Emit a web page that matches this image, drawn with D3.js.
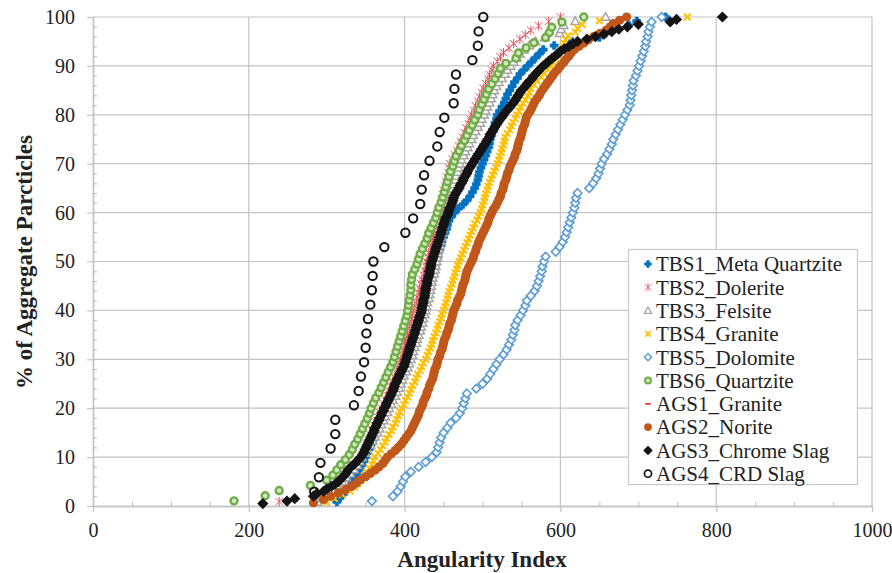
<!DOCTYPE html>
<html>
<head>
<meta charset="utf-8">
<script src="https://cdn.jsdelivr.net/npm/d3@7"></script>
<style>
  body { margin: 0; background: #fff; }
  svg text { font-family: "Liberation Serif", "Times New Roman", Times, Tinos, "DejaVu Serif", serif; }
</style>
</head>
<body>
<svg id="chart" width="892" height="573"></svg>
<script>
// Angularity index of every measured particle, sorted ascending, per aggregate.
// The y value of a point is its cumulative share of the sample (rank / count).
const seriesNames = ["TBS1_Meta Quartzite", "TBS2_Dolerite", "TBS3_Felsite", "TBS4_Granite",
  "TBS5_Dolomite", "TBS6_Quartzite", "AGS1_Granite", "AGS2_Norite", "AGS3_Chrome Slag", "AGS4_CRD Slag"];

const tbs1 = [313,317,322,326,330,333,336,340,343,345,348,350,352,355,357,359,360,362,365,368,
  370,373,375,378,380,383,385,388,390,392,394,396,399,401,403,405,407,409,410,412,
  413,415,417,419,420,422,423,425,426,427,429,430,431,432,434,435,436,438,439,440,
  442,443,445,447,448,450,452,454,455,457,460,464,469,475,480,484,487,490,492,494,
  495,496,498,500,502,504,506,508,509,510,512,514,515,516,518,519,522,525,528,530,
  532,535,538,541,545,548,553,558,563,568,573,578,592,615,650,658,666,688,698,735];

const tbs2 = [239,292,305,312,318,323,328,332,336,341,345,348,350,352,354,356,358,361,363,366,
  368,370,373,375,377,380,382,385,387,389,391,393,395,397,398,400,401,403,404,406,
  407,409,410,412,413,415,416,418,419,421,422,424,425,427,428,430,431,433,434,436,
  437,438,440,441,442,443,445,446,447,449,450,452,453,454,456,457,458,461,464,467,
  469,472,474,477,479,482,484,486,489,491,494,496,499,501,504,507,509,512,514,519,
  523,527,534,540,548,555,562,572,585,600];

const tbs3 = [288,295,300,307,313,320,325,330,335,339,342,345,349,352,356,359,362,365,368,370,
  373,375,378,380,383,385,388,390,393,395,397,399,402,404,406,408,410,411,413,415,
  416,418,420,421,423,424,426,427,428,429,431,432,433,434,435,436,438,439,440,441,
  442,443,444,445,446,447,448,449,450,450,451,452,454,455,457,459,460,462,463,465,
  466,468,469,471,473,476,478,481,483,486,488,491,494,497,499,502,504,506,509,511,
  513,515,518,521,525,529,532,536,540,544,548,553,560,568,580,599,601,604,619,658];

const tbs4 = [300,310,320,330,336,340,344,348,351,355,358,360,362,366,369,372,375,377,380,383,
  385,388,390,392,394,396,399,401,404,406,408,410,413,415,417,420,422,424,427,429,
  431,433,435,436,438,440,442,443,445,447,448,450,452,453,455,456,457,459,461,462,
  464,465,467,468,470,472,474,476,478,480,482,484,486,488,490,493,495,497,499,500,
  502,503,504,506,507,509,511,513,515,517,519,521,522,524,525,527,528,529,532,535,
  537,539,542,544,547,549,552,555,558,560,562,566,570,575,579,584,588,591,594,597,
  600,603,605,607,610,619,622,628,650,763];

const tbs5 = [358,385,391,395,398,401,408,418,427,435,441,443,445,447,450,455,459,466,471,474,
  476,478,480,492,500,506,510,514,518,522,527,531,534,537,539,541,542,545,549,552,
  555,557,562,567,570,572,574,576,577,579,581,594,599,603,606,608,610,612,614,616,
  618,619,620,622,637,642,646,649,651,653,656,660,663,666,668,671,674,677,680,683,
  686,689,690,691,692,693,694,697,699,701,703,705,707,709,710,712,713,715,717,730];

const tbs6 = [181,221,239,279,300,308,313,318,324,329,333,336,340,343,346,349,352,355,357,360,
  363,367,370,373,376,379,382,385,387,389,391,393,395,397,399,401,403,404,405,406,
  407,408,408,409,410,413,416,418,420,423,426,429,431,434,437,440,442,444,447,449,
  451,453,455,457,459,462,464,466,470,473,477,480,483,487,490,494,496,499,502,505,
  508,512,516,520,523,530,543,546,556,566,581,586,589,602,630];

const ags1 = [249,283,296,306,315,320,324,329,335,341,345,348,351,354,357,359,362,365,368,371,
  374,377,380,383,385,388,391,394,397,399,401,403,405,407,409,411,413,415,417,419,
  420,421,423,424,425,426,428,429,431,432,434,436,438,440,442,444,446,448,450,453,
  455,458,460,463,467,470,473,477,480,484,488,492,496,500,504,507,511,515,519,524,
  529,534,539,543,547,553,558,563,570,577,585,593,600,611,622,645,666,686,741,808];

const ags2 = [283,296,305,315,324,332,338,343,350,356,362,367,372,375,378,383,388,392,396,399,
  402,405,408,410,412,414,416,418,419,421,423,424,426,428,429,431,432,434,436,437,
  438,439,441,442,443,445,446,448,449,450,451,453,454,456,457,458,460,461,462,463,
  465,467,468,470,472,473,474,475,477,478,479,480,482,484,486,488,489,491,492,494,
  495,497,499,501,503,505,507,508,510,512,514,517,519,521,523,524,526,527,528,530,
  531,532,534,535,537,539,541,542,544,545,546,547,549,550,551,552,554,555,556,558,
  561,563,565,567,570,573,575,578,581,584,587,590,593,597,600,604,607,611,614,618,
  624,630,636,643,651,659,664,668,676,685];

const ags3 = [218,249,259,283,287,296,300,306,311,315,318,321,324,326,328,331,335,338,341,344,
  346,348,349,351,352,354,355,357,358,360,361,362,364,365,367,368,370,371,373,374,
  376,377,379,380,382,383,385,386,387,388,390,391,393,394,396,397,399,400,401,402,
  403,404,405,406,407,408,409,410,411,412,413,414,415,416,417,418,419,420,421,422,
  422,423,424,424,425,426,426,427,427,428,429,429,430,431,432,432,433,434,434,435,
  436,437,438,439,440,441,442,443,444,445,446,447,448,449,450,451,452,453,455,456,
  457,458,460,461,462,463,464,466,468,470,471,473,475,476,478,480,481,483,485,487,
  489,491,493,495,497,499,501,503,505,507,509,510,512,514,516,518,520,522,525,527,
  529,532,535,537,540,542,544,546,548,550,553,556,558,561,564,566,569,572,575,578,
  582,585,589,593,597,600,605,611,616,622,634,645,656,666,675,686,700,741,749,808];

const ags4 = [284,290,292,305,311,311,335,341,344,348,350,351,353,356,358,359,360,374,401,411,
  420,422,425,432,442,445,451,463,464,466,487,494,495,501];

const xTicks = [0, 200, 400, 600, 800, 1000];
const yTicks = [0, 10, 20, 30, 40, 50, 60, 70, 80, 90, 100];

const serif = '"Liberation Serif", "Times New Roman", Times, Tinos, "DejaVu Serif", serif';

// marker shapes (path strings centred on the origin)
const ring = r => `M${r},0A${r},${r} 0 1,1 ${-r},0A${r},${r} 0 1,1 ${r},0Z`;
const markers = {
  plus:    { d: "M-4,-1.6H-1.6V-4H1.6V-1.6H4V1.6H1.6V4H-1.6V1.6H-4Z", fill: "#0070C0", stroke: "#0070C0", sw: 0.6 },
  star:    { d: "M-3.8,-3.8L3.8,3.8M-3.8,3.8L3.8,-3.8M0,-4.6V4.6", fill: "none", stroke: "#E0505A", sw: 1 },
  tri:     { d: "M0,-4.3L4.3,3.3H-4.3Z", fill: "#fff", stroke: "#A5A5A5", sw: 1.5 },
  cross:   { d: "M-3.3,-3.3L3.3,3.3M-3.3,3.3L3.3,-3.3", fill: "none", stroke: "#FFC000", sw: 2 },
  diaOpen: { d: "M0,-4.3L4.3,0L0,4.3L-4.3,0Z", fill: "#fff", stroke: "#5B9BD5", sw: 1.6 },
  ringG:   { d: ring(3.5), fill: "#D3E7C2", stroke: "#70AD47", sw: 2.4 },
  dash:    { d: "M-3.2,0H3.2", fill: "none", stroke: "#E02B2B", sw: 2 },
  dot:     { d: ring(4.6), fill: "#C0571B", stroke: "none", sw: 0 },
  diamond: { d: "M0,-5.6L5.6,0L0,5.6L-5.6,0Z", fill: "#141414", stroke: "none", sw: 0 },
  ringK:   { d: ring(4.2), fill: "none", stroke: "#141414", sw: 2 }
};

const series = [
  { name: seriesNames[0], values: tbs1, shape: "plus" },
  { name: seriesNames[1], values: tbs2, shape: "star" },
  { name: seriesNames[2], values: tbs3, shape: "tri" },
  { name: seriesNames[3], values: tbs4, shape: "cross" },
  { name: seriesNames[4], values: tbs5, shape: "diaOpen" },
  { name: seriesNames[5], values: tbs6, shape: "ringG" },
  { name: seriesNames[6], values: ags1, shape: "dash" },
  { name: seriesNames[7], values: ags2, shape: "dot" },
  { name: seriesNames[8], values: ags3, shape: "diamond" },
  { name: seriesNames[9], values: ags4, shape: "ringK" }
];

const svg = d3.select("#chart");
const x = d3.scaleLinear().domain([0, 1000]).range([93, 872]);
const y = d3.scaleLinear().domain([0, 100]).range([506, 17]);
const gridColor = "#C4C4C4";

// gridlines
svg.append("g").selectAll("line").data(yTicks.slice(1)).join("line")
  .attr("x1", x(0)).attr("x2", x(1000))
  .attr("y1", d => y(d)).attr("y2", d => y(d))
  .attr("stroke", gridColor).attr("stroke-width", 1.2);
svg.append("g").selectAll("line").data(xTicks.slice(1)).join("line")
  .attr("y1", y(0)).attr("y2", y(100))
  .attr("x1", d => x(d)).attr("x2", d => x(d))
  .attr("stroke", gridColor).attr("stroke-width", 1.2);

// axes: major ticks outside, minor ticks inside
const styleAxis = g => {
  g.attr("font-family", serif).attr("font-size", 20);
  g.selectAll(".domain").attr("stroke", gridColor).attr("stroke-width", 1.4);
  g.selectAll(".tick line").attr("stroke", gridColor).attr("stroke-width", 1.2);
  g.selectAll("text").attr("fill", "#222");
};
const xMinor = d3.range(50, 1000, 50).filter(v => v % 200 !== 0);
const yMinor = d3.range(2, 100, 2).filter(v => v % 10 !== 0);

svg.append("g").attr("transform", `translate(0,${y(0)})`)
  .call(d3.axisBottom(x).tickValues(xMinor).tickSize(-4).tickFormat("").tickSizeOuter(0))
  .call(styleAxis);
svg.append("g").attr("transform", `translate(${x(0)},0)`)
  .call(d3.axisLeft(y).tickValues(yMinor).tickSize(-4).tickFormat("").tickSizeOuter(0))
  .call(styleAxis);
svg.append("g").attr("transform", `translate(0,${y(0)})`)
  .call(d3.axisBottom(x).tickValues(xTicks).tickFormat(d3.format("d")).tickSize(6).tickPadding(11).tickSizeOuter(0))
  .call(styleAxis);
svg.append("g").attr("transform", `translate(${x(0)},0)`)
  .call(d3.axisLeft(y).tickValues(yTicks).tickFormat(d3.format("d")).tickSize(6).tickPadding(12).tickSizeOuter(0))
  .call(styleAxis);

// axis titles
svg.append("text").attr("x", 482).attr("y", 567).attr("text-anchor", "middle")
  .attr("font-family", serif).attr("font-size", 23).attr("font-weight", "bold").attr("fill", "#222")
  .text("Angularity Index");
svg.append("text").attr("transform", "translate(32,262) rotate(-90)").attr("text-anchor", "middle")
  .attr("font-family", serif).attr("font-size", 23).attr("font-weight", "bold").attr("fill", "#222")
  .text("% of Aggregate Parcticles");

// cumulative distribution points
const plot = svg.append("g");
series.forEach(s => {
  const m = markers[s.shape];
  const n = s.values.length;
  plot.append("g").selectAll("path").data(s.values).join("path")
    .attr("d", m.d)
    .attr("transform", (v, i) => `translate(${x(v)},${y((i + 1) / n * 100)})`)
    .attr("fill", m.fill).attr("stroke", m.stroke).attr("stroke-width", m.sw);
});

// legend
const lg = svg.append("g");
lg.append("rect").attr("x", 628.5).attr("y", 249.5).attr("width", 229).attr("height", 235)
  .attr("fill", "#fff").attr("stroke", "#C8C8C8").attr("stroke-width", 1.2);
series.forEach((s, i) => {
  const m = markers[s.shape];
  const cy = 264 + i * 23.3;
  lg.append("path").attr("d", m.d).attr("transform", `translate(648,${cy}) scale(0.85)`)
    .attr("fill", m.fill).attr("stroke", m.stroke).attr("stroke-width", m.sw);
  lg.append("text").attr("x", 656).attr("y", cy).attr("dy", "0.35em")
    .attr("font-family", serif).attr("font-size", 21).attr("fill", "#222").text(s.name);
});
</script>
</body>
</html>
